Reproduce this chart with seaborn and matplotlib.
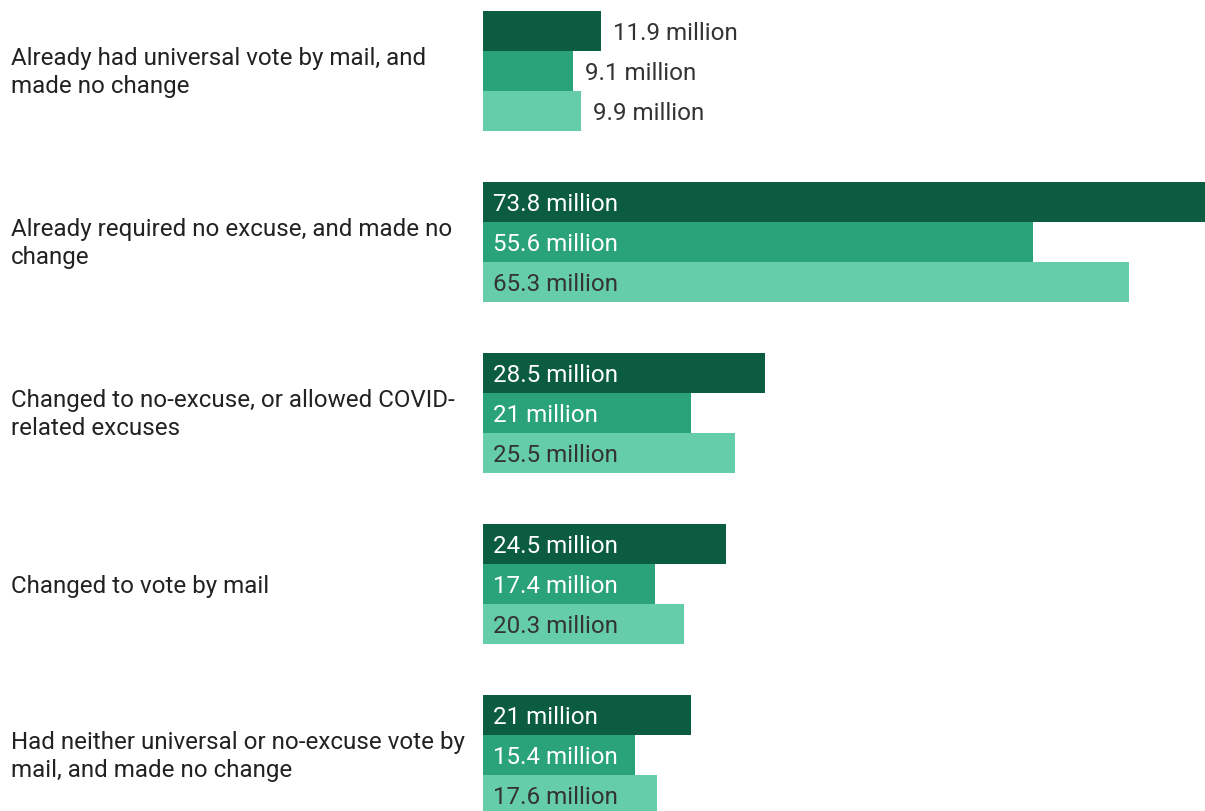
import matplotlib
matplotlib.use("Agg")
import matplotlib.pyplot as plt
import matplotlib.transforms as mtransforms
import seaborn as sns
import pandas as pd

categories = [
    "Already had universal vote by mail, and\nmade no change",
    "Already required no excuse, and made no\nchange",
    "Changed to no-excuse, or allowed COVID-\nrelated excuses",
    "Changed to vote by mail",
    "Had neither universal or no-excuse vote by\nmail, and made no change",
]
series_names = ["Series 1", "Series 2", "Series 3"]
series1 = [11.9, 73.8, 28.5, 24.5, 21.0]
series2 = [9.1, 55.6, 21.0, 17.4, 15.4]
series3 = [9.9, 65.3, 25.5, 20.3, 17.6]
value_labels1 = ["11.9 million", "73.8 million", "28.5 million", "24.5 million", "21 million"]
value_labels2 = ["9.1 million", "55.6 million", "21 million", "17.4 million", "15.4 million"]
value_labels3 = ["9.9 million", "65.3 million", "25.5 million", "20.3 million", "17.6 million"]

colors = ["#0b5c40", "#2aa37a", "#66cdaa"]
text_inside = ["white", "white", "#333333"]

rows = []
for name, vals, labs in zip(series_names, [series1, series2, series3],
                            [value_labels1, value_labels2, value_labels3]):
    for c, v, l in zip(categories, vals, labs):
        rows.append({"category": c, "series": name, "value": v, "label": l})
df = pd.DataFrame(rows)

sns.set_theme(style="white")
plt.rcParams["font.family"] = ["Roboto", "DejaVu Sans"]

W, H = 1205, 811
fig = plt.figure(figsize=(W / 100, H / 100), dpi=100)
ax = fig.add_axes([483 / W, 0, 1 - 483 / W, 1])

sns.barplot(data=df, y="category", x="value", hue="series", orient="h",
            palette=colors, width=0.702, dodge=True, legend=False, ax=ax,
            saturation=1, linewidth=0)

ax.set_xlim(0, 722 / 9.9)
ax.set_ylim(4 + 56 / 171, -71 / 171)

fs = 17.4
fig.canvas.draw()
renderer = fig.canvas.get_renderer()
pix_per_unit = ax.transData.transform((1, 0))[0] - ax.transData.transform((0, 0))[0]
for i, cont in enumerate(ax.containers):
    labs = [value_labels1, value_labels2, value_labels3][i]
    for bar, lab in zip(cont.patches, labs):
        w = bar.get_width()
        yc = bar.get_y() + bar.get_height() / 2
        t = ax.text(0, 0, lab, fontsize=fs)
        bb = t.get_window_extent(renderer)
        t.remove()
        lw = bb.width / pix_per_unit
        pad = 10 / pix_per_unit
        if w > lw + 2 * pad:
            ax.text(pad, yc, lab, fontsize=fs, color=text_inside[i],
                    ha="left", va="center_baseline")
        else:
            ax.text(w + 12 / pix_per_unit, yc, lab, fontsize=fs, color="#333333",
                    ha="left", va="center_baseline")

ax.set_xlabel("")
ax.set_ylabel("")
ax.set_xticks([])
ax.set_yticks(range(len(categories)))
ax.set_yticklabels([])
ax.tick_params(axis="y", length=0)
label_x = ax.transAxes.inverted().transform((11, 0))[0]
for k, cat in enumerate(categories):
    dy = -1.5 if "\n" in cat else -2
    off = mtransforms.ScaledTranslation(0, dy / 100, fig.dpi_scale_trans)
    tr = mtransforms.blended_transform_factory(ax.transAxes, ax.transData) + off
    ax.text(label_x, k, cat, transform=tr, fontsize=fs, color="#222222",
            ha="left", va="center", linespacing=1.27, clip_on=False)
for s in ax.spines.values():
    s.set_visible(False)

fig.savefig("out.png", dpi=100)
